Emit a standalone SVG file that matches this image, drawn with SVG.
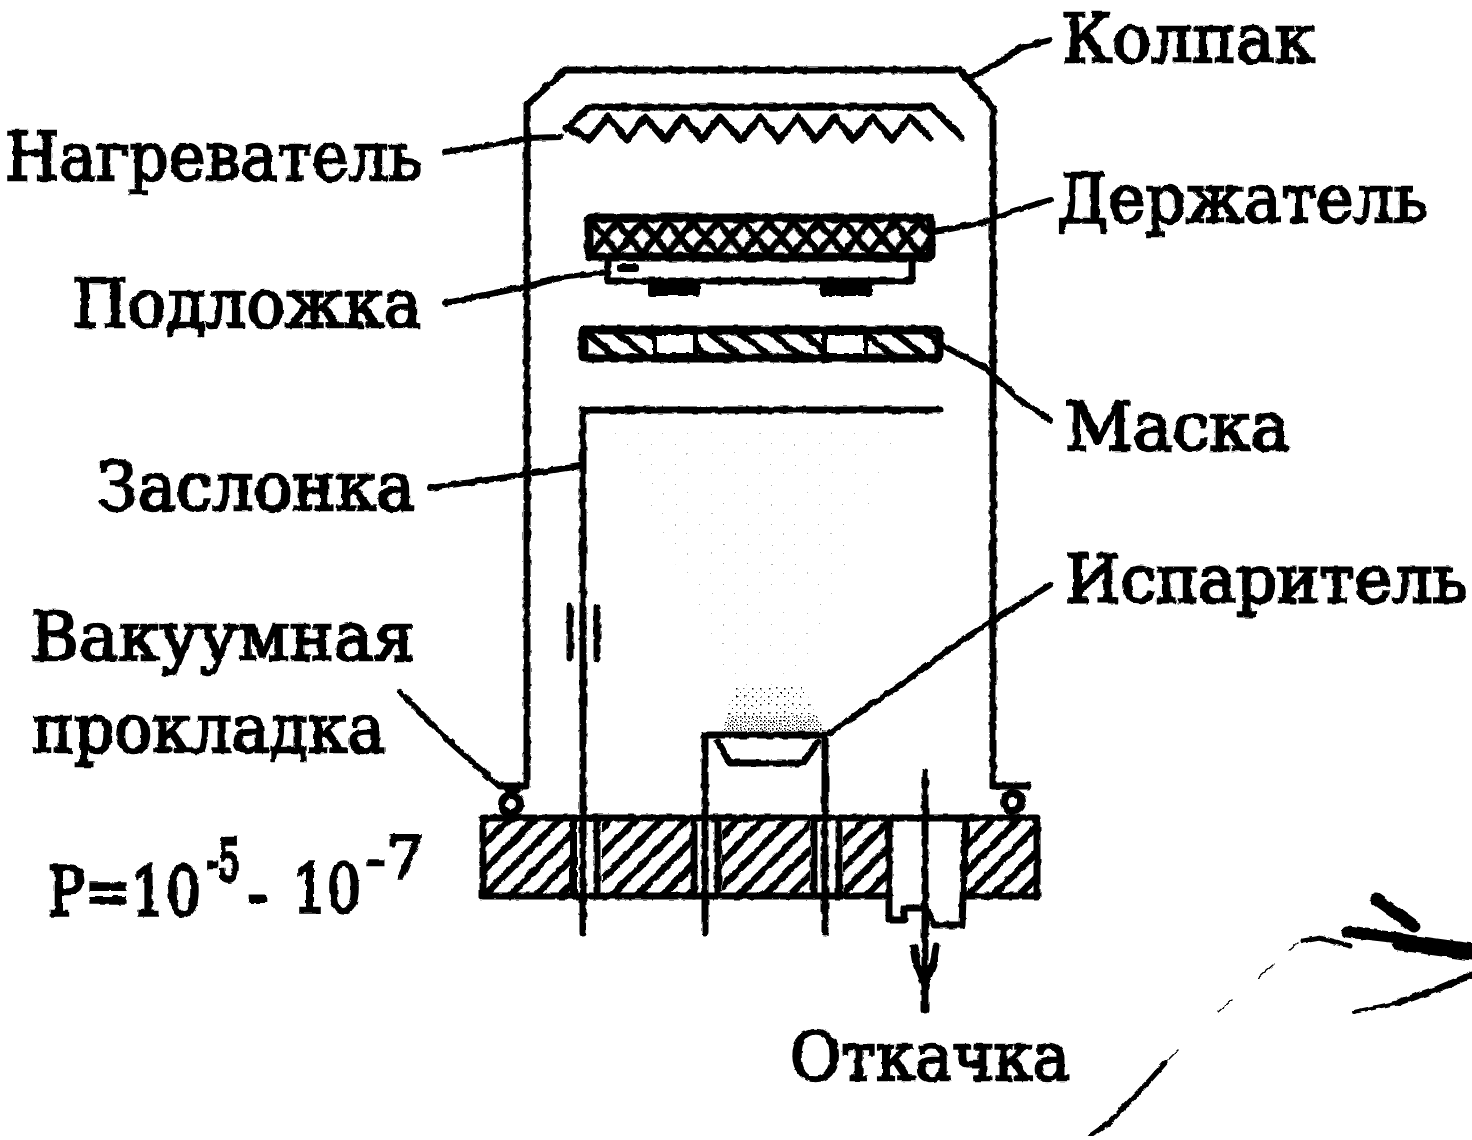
<svg xmlns="http://www.w3.org/2000/svg" width="1472" height="1140" viewBox="0 0 1472 1140">
<style>
.l{fill:none;stroke:#000;stroke-width:7;stroke-linejoin:round;stroke-linecap:round}
.c{fill:none;stroke:#000;stroke-width:6;stroke-linejoin:round;stroke-linecap:round}
.t{font-family:"DejaVu Serif","Liberation Serif",serif;font-size:67px;fill:#000;stroke:#000;stroke-width:2.600}
.s{fill:#000;stroke:none}
.b{stroke:#000;stroke-linecap:round;fill:none}
</style>
<defs>
<filter id="r" x="0" y="0" width="1" height="1" filterUnits="objectBoundingBox"><feTurbulence type="fractalNoise" baseFrequency="0.12" numOctaves="2" seed="4" result="n"/><feDisplacementMap in="SourceGraphic" in2="n" scale="4" xChannelSelector="R" yChannelSelector="G"/></filter>
<pattern id="h" width="18" height="18" patternUnits="userSpaceOnUse" patternTransform="rotate(45)"><rect width="18" height="18" fill="#fff"/><rect width="7" height="18" fill="#000"/></pattern>
<pattern id="m" width="19" height="19" patternUnits="userSpaceOnUse" patternTransform="rotate(-52)"><rect width="19" height="19" fill="#fff"/><rect width="7" height="19" fill="#000"/></pattern>
<pattern id="x" x="592" y="222" width="25.200" height="31" patternUnits="userSpaceOnUse"><rect width="25.200" height="31" fill="#fff"/><path d="M0 0 25.200 31M25.200 0 0 31" stroke="#000" stroke-width="7"/></pattern>
<pattern id="d1" width="4" height="4" patternUnits="userSpaceOnUse"><rect width="1.500" height="1.500" fill="#000"/><rect x="2" y="2" width="1" height="1" fill="#000"/></pattern>
<pattern id="d2" width="8" height="8" patternUnits="userSpaceOnUse"><rect width="1.500" height="1.500" fill="#000"/><rect x="4" y="4" width="1" height="1" fill="#000"/></pattern>
<pattern id="d3" width="24" height="20" patternUnits="userSpaceOnUse"><rect x="3" y="4" width="1" height="1" fill="#aaa"/><rect x="15" y="13" width="1" height="1" fill="#bbb"/></pattern>
</defs>
<g filter="url(#r)">
<g id="vapour">
<path d="M610 425H900L800 690H735Z" fill="url(#d3)"/>
<path d="M735 688H805L815 716H725Z" fill="url(#d2)"/>
<path d="M728 716H818L825 732H722Z" fill="url(#d1)"/>
</g>
<g id="kolpak"><path class="l" d="M500 786H527V105L565 70H960L993 108V786H1028"/></g>
<g id="heater"><path class="l" d="M566 129 589 107H932L962 138"/><path class="l" stroke-width="6" d="M568 127 589 140 608 117 627 140 645 117 665 140 683 117 702 140 720 117 741 140 760 117 779 140 798 117 816 140 835 117 853 140 873 117 892 140 910 117 930 138"/></g>
<g id="holder"><rect x="589" y="218" width="342" height="39" fill="url(#x)" stroke="#000" stroke-width="9" rx="2"/></g>
<g id="substrate"><path class="l" d="M608 259V281H912V259"/><rect class="s" x="648" y="281" width="52" height="15" rx="3"/><rect class="s" x="820" y="281" width="52" height="15" rx="3"/><rect class="s" x="617" y="264" width="21" height="8" rx="3"/></g>
<g id="mask"><rect x="583" y="330" width="356" height="28" fill="url(#m)" stroke="#000" stroke-width="9" rx="2"/><rect x="652" y="333" width="46" height="23" fill="#000"/><rect x="657" y="335" width="36" height="18" fill="#fff"/><rect x="822" y="333" width="46" height="23" fill="#000"/><rect x="827" y="335" width="36" height="18" fill="#fff"/></g>
<g id="base">
<rect x="482" y="817" width="556" height="78" fill="url(#h)"/>
<rect x="570" y="817" width="32" height="78" fill="#fff"/><rect x="691" y="817" width="31" height="78" fill="#fff"/><rect x="810" y="817" width="33" height="78" fill="#fff"/><rect x="889" y="817" width="77" height="78" fill="#fff"/>
<path class="l" d="M889 896H483V818H1037V896H966"/>
<path class="l" d="M573.500 818V896M597 818V896M694 818V896M718 818V896M814 818V896M839 818V896"/>
<path class="l" d="M889 818V920H904V908H925L935 925H962L966 818"/>
</g>
<g id="shutter"><path class="l" d="M940 410H583V932"/><path class="l" d="M570 607V658M597 607V658"/></g>
<g id="evaporator"><path class="l" d="M705 932V735H825V932"/><path class="l" d="M718 742 730 763H803L818 742"/></g>
<g id="seals"><circle cx="511" cy="804" r="9" fill="#fff" stroke="#000" stroke-width="8"/><circle cx="1013" cy="802" r="9" fill="#fff" stroke="#000" stroke-width="8"/><path class="s" d="M503 788H522L514 796H508Z"/></g>
<g id="pump"><path class="l" d="M925 773V1010"/><path class="l" d="M914 947 917 965 925 985 933 965 936 947"/><path d="M917 965H933L925 995Z" fill="#000"/></g>
<g id="connectors">
<path class="c" d="M970 78 1000 62 1020 48 1050 40"/>
<path class="c" d="M445 152 500 144 527 138 560 137"/>
<path class="c" d="M935 232 985 222 1010 212 1050 200"/>
<path class="c" d="M445 303 520 288 560 278 608 272"/>
<path class="c" d="M942 345 985 368 1020 400 1050 420"/>
<path class="c" d="M430 488 500 478 580 466"/>
<path class="c" d="M830 733 900 685 970 635 1050 585"/>
<path class="c" d="M400 692 450 742 498 785"/>
</g>
<g id="labels">
<text class="t" x="1062" y="62" textLength="253" lengthAdjust="spacingAndGlyphs">Колпак</text>
<text class="t" x="5" y="180" textLength="417" lengthAdjust="spacingAndGlyphs">Нагреватель</text>
<text class="t" x="1057" y="222" textLength="371" lengthAdjust="spacingAndGlyphs">Держатель</text>
<text class="t" x="72" y="327" textLength="350" lengthAdjust="spacingAndGlyphs">Подложка</text>
<text class="t" x="1065" y="450" textLength="225" lengthAdjust="spacingAndGlyphs">Маска</text>
<text class="t" x="97" y="510" textLength="318" lengthAdjust="spacingAndGlyphs">Заслонка</text>
<text class="t" style="font-size:60px" transform="translate(1065 602) scale(1 1.1)" textLength="402" lengthAdjust="spacingAndGlyphs">Испаритель</text>
<text class="t" x="30" y="660" textLength="385" lengthAdjust="spacingAndGlyphs">Вакуумная</text>
<text class="t" x="32" y="752" textLength="353" lengthAdjust="spacingAndGlyphs">прокладка</text>
<text class="t" style="font-size:50px" transform="translate(48 915) scale(1 1.34)" textLength="153" lengthAdjust="spacingAndGlyphs">P=10</text>
<text class="t" style="font-size:32px" transform="translate(207 880) scale(1 1.75)" textLength="33" lengthAdjust="spacingAndGlyphs">-5</text>
<text class="t" style="font-size:40px" transform="translate(248 915) scale(1 1.5)" textLength="20" lengthAdjust="spacingAndGlyphs">-</text>
<text class="t" style="font-size:50px" transform="translate(293 912) scale(1 1.34)" textLength="68" lengthAdjust="spacingAndGlyphs">10</text>
<text class="t" style="font-size:58px" x="365" y="878" textLength="60" lengthAdjust="spacingAndGlyphs">-7</text>
<text class="t" x="790" y="1080" textLength="280" lengthAdjust="spacingAndGlyphs">Откачка</text>
</g>
<g id="scribble">
<path class="b" stroke-width="13" d="M1376 899 1414 926"/>
<path class="b" stroke-width="11" d="M1347 932 1400 938"/>
<path class="b" stroke-width="17" d="M1400 942 1472 952"/>
<path class="b" stroke-width="5" d="M1303 941 1320 938 1350 946"/>
<path class="b" stroke-width="4" d="M1354 1012 1400 1002"/>
<path class="b" stroke-width="7" d="M1400 1002 1440 988 1472 975"/>
<path class="b" stroke-width="5" d="M1090 1136 1110 1122 1150 1080 1165 1063"/>
<path class="b" stroke-width="1.500" d="M1165 1063 1178 1050M1298 943 1290 950M1273 965 1258 978M1232 1000 1218 1012"/>
</g>
</g>
</svg>
